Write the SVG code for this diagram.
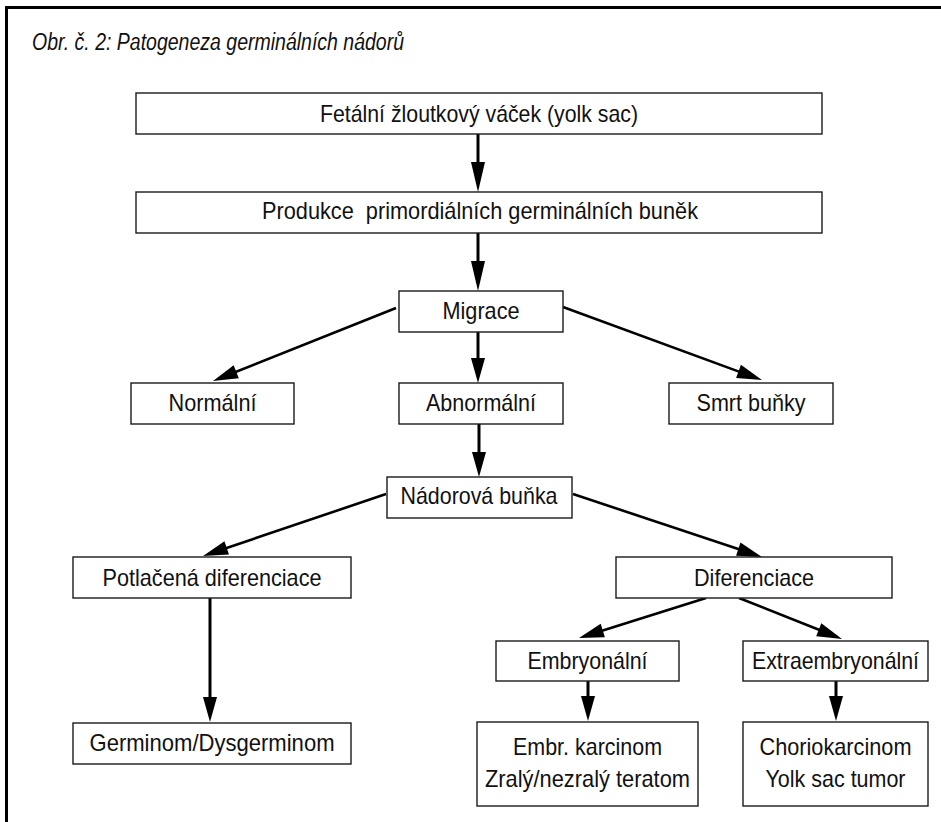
<svg xmlns="http://www.w3.org/2000/svg" width="941" height="822" viewBox="0 0 941 822">
<style>
.box{fill:#fff;stroke:#1a1a1a;stroke-width:1.4}
.t{font-family:"Liberation Sans",Arial,sans-serif;font-size:24px;fill:#111;text-anchor:middle}
.title{font-family:"Liberation Sans",Arial,sans-serif;font-size:23px;font-style:italic;fill:#111}
.c{stroke:#000;stroke-width:3;fill:none}
.d{stroke:#000;stroke-width:2.6;fill:none}
</style>
<defs>
<marker id="ah" markerUnits="userSpaceOnUse" markerWidth="26" markerHeight="15" refX="15" refY="7" orient="auto" overflow="visible"><path d="M0,0 L25,7 L0,14 Z" fill="#000"/></marker>
<marker id="ahl" markerUnits="userSpaceOnUse" markerWidth="32" markerHeight="15" refX="20" refY="7" orient="auto" overflow="visible"><path d="M0,0 L30,7 L0,14 Z" fill="#000"/></marker>
</defs>
<rect width="941" height="822" fill="#fff"/>
<rect x="6.5" y="7.5" width="960" height="840" fill="none" stroke="#000" stroke-width="3"/>
<text class="title" x="32" y="50" textLength="372" lengthAdjust="spacingAndGlyphs">Obr. č. 2: Patogeneza germinálních nádorů</text>

<g id="connectors">
<line class="c" x1="478" y1="134" x2="478" y2="182" marker-end="url(#ahl)"/>
<line class="c" x1="478" y1="233" x2="478" y2="281" marker-end="url(#ahl)"/>
<line class="d" x1="396" y1="308" x2="222.3" y2="377.3" marker-end="url(#ah)"/>
<line class="c" x1="478" y1="332" x2="478" y2="373" marker-end="url(#ah)"/>
<line class="d" x1="563" y1="307" x2="752.6" y2="376.6" marker-end="url(#ah)"/>
<line class="c" x1="479" y1="424" x2="479" y2="467" marker-end="url(#ah)"/>
<line class="d" x1="386" y1="494" x2="212.5" y2="552.8" marker-end="url(#ah)"/>
<line class="d" x1="573" y1="494" x2="752.5" y2="553.8" marker-end="url(#ah)"/>
<line class="c" x1="210" y1="598" x2="210" y2="712" marker-end="url(#ah)"/>
<line class="d" x1="706" y1="598" x2="588.5" y2="635" marker-end="url(#ah)"/>
<line class="d" x1="739" y1="598" x2="832.7" y2="635.3" marker-end="url(#ah)"/>
<line class="c" x1="588" y1="681" x2="588" y2="711" marker-end="url(#ah)"/>
<line class="c" x1="836" y1="681" x2="836" y2="711" marker-end="url(#ah)"/>
</g>

<g id="n-fetal"><rect class="box" x="136" y="93" width="686" height="41"/><text class="t" x="479" y="121.5" textLength="318" lengthAdjust="spacingAndGlyphs">Fetální žloutkový váček (yolk sac)</text></g>
<g id="n-produkce"><rect class="box" x="136" y="192" width="686" height="41"/><text class="t" x="480" y="219" textLength="436" lengthAdjust="spacingAndGlyphs" xml:space="preserve">Produkce  primordiálních germinálních buněk</text></g>
<g id="n-migrace"><rect class="box" x="399" y="291" width="164" height="41"/><text class="t" x="481" y="318.5" textLength="77" lengthAdjust="spacingAndGlyphs">Migrace</text></g>
<g id="n-normalni"><rect class="box" x="131" y="383" width="163" height="41"/><text class="t" x="212.5" y="410.5" textLength="88" lengthAdjust="spacingAndGlyphs">Normální</text></g>
<g id="n-abnormalni"><rect class="box" x="399" y="383" width="164" height="41"/><text class="t" x="481" y="410.5" textLength="110" lengthAdjust="spacingAndGlyphs">Abnormální</text></g>
<g id="n-smrt"><rect class="box" x="669" y="383" width="164" height="41"/><text class="t" x="751" y="410.5" textLength="109" lengthAdjust="spacingAndGlyphs">Smrt buňky</text></g>
<g id="n-nadorova"><rect class="box" x="387" y="477" width="185" height="41"/><text class="t" x="479" y="504" textLength="157" lengthAdjust="spacingAndGlyphs">Nádorová buňka</text></g>
<g id="n-potlacena"><rect class="box" x="73" y="557" width="278" height="41"/><text class="t" x="212" y="585.5" textLength="219" lengthAdjust="spacingAndGlyphs">Potlačená diferenciace</text></g>
<g id="n-diferenciace"><rect class="box" x="616" y="557" width="276" height="41"/><text class="t" x="754" y="585.5" textLength="120" lengthAdjust="spacingAndGlyphs">Diferenciace</text></g>
<g id="n-embryonalni"><rect class="box" x="496" y="641" width="183" height="40"/><text class="t" x="587.5" y="668.5" textLength="120" lengthAdjust="spacingAndGlyphs">Embryonální</text></g>
<g id="n-extra"><rect class="box" x="743" y="641" width="185" height="40"/><text class="t" x="835.5" y="668.5" textLength="167" lengthAdjust="spacingAndGlyphs">Extraembryonální</text></g>
<g id="n-germinom"><rect class="box" x="73" y="723" width="278" height="41"/><text class="t" x="212" y="751" textLength="245" lengthAdjust="spacingAndGlyphs">Germinom/Dysgerminom</text></g>
<g id="n-embr"><rect class="box" x="477" y="722" width="221" height="84"/><text class="t" x="587.5" y="754.5" textLength="149" lengthAdjust="spacingAndGlyphs">Embr. karcinom</text><text class="t" x="587.5" y="787" textLength="205" lengthAdjust="spacingAndGlyphs">Zralý/nezralý teratom</text></g>
<g id="n-chorio"><rect class="box" x="743" y="722" width="185" height="84"/><text class="t" x="835.5" y="754.5" textLength="152" lengthAdjust="spacingAndGlyphs">Choriokarcinom</text><text class="t" x="835.5" y="787" textLength="140" lengthAdjust="spacingAndGlyphs">Yolk sac tumor</text></g>
</svg>
